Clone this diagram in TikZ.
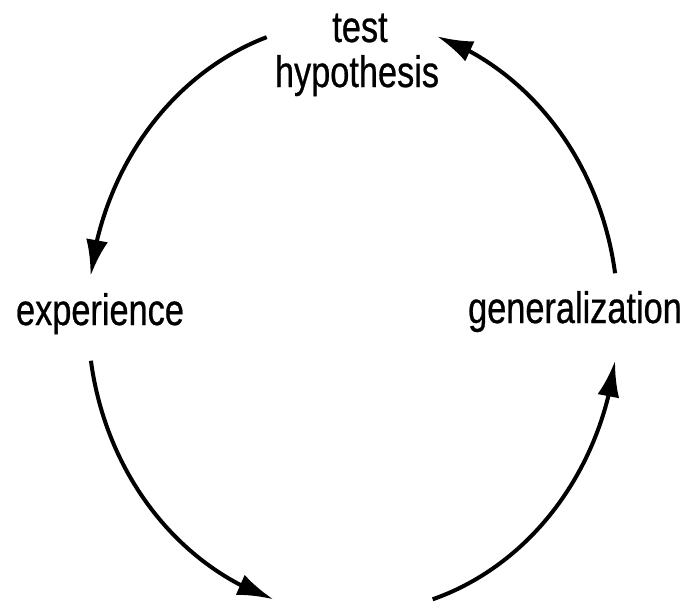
\documentclass[tikz,border=0pt]{standalone}
\usepackage{fontspec}
\setmainfont[FakeStretch=0.78,FakeBold=0.6]{Liberation Sans}
\usetikzlibrary{arrows.meta,bending,calc}
\begin{document}
\begin{tikzpicture}[x=1pt,y=-1pt,
  lbl/.style={anchor=base,inner sep=0pt,font=\fontsize{44}{50}\selectfont},
  cyc/.style={line width=4pt,-{Latex[length=36pt,width=22pt,flex]}}]
\useasboundingbox (0,0) rectangle (687,611);
\node[lbl] (test) at (360,42) {test};
\node[lbl] (hyp) at (357,87) {hypothesis};
\node[lbl] (exp) at (100,325) {experience};
\node[lbl] (gen) at (575,323) {generalization};
\coordinate (O) at (353,317);
\coordinate (s1) at ($(O)+(251:265 and 296)$);
\coordinate (s2) at ($(O)+(171.5:265 and 296)$);
\coordinate (s3) at ($(O)+(72.5:265 and 296)$);
\coordinate (s4) at ($(O)+(-8.5:265 and 296)$);
\draw[cyc] (s1) arc[start angle=251,end angle=188,x radius=265,y radius=296];
\draw[cyc] (s2) arc[start angle=171.5,end angle=107.5,x radius=265,y radius=296];
\draw[cyc] (s3) arc[start angle=72.5,end angle=8.5,x radius=265,y radius=296];
\draw[cyc] (s4) arc[start angle=-8.5,end angle=-71.5,x radius=265,y radius=296];
\end{tikzpicture}
\end{document}
